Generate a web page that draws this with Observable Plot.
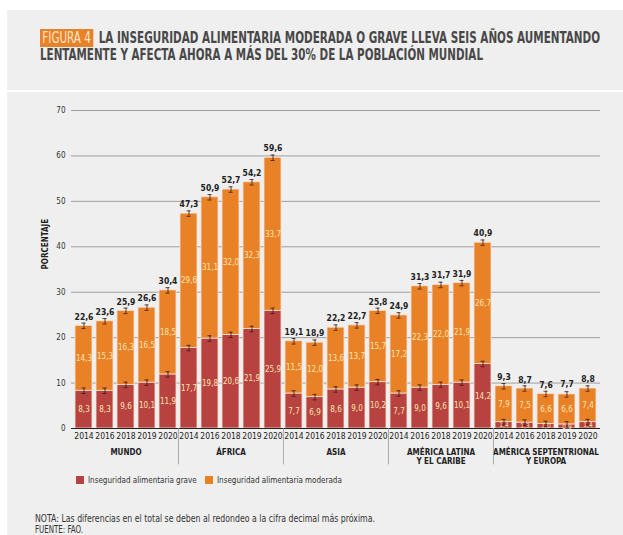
<!DOCTYPE html>
<html><head><meta charset="utf-8">
<script src="https://cdn.jsdelivr.net/npm/d3@7"></script>
<script src="https://cdn.jsdelivr.net/npm/@observablehq/plot@0.6"></script>
<style>
body{margin:0;background:#fff;width:623px;height:535px;position:relative;overflow:hidden;font-family:"DejaVu Sans Condensed","DejaVu Sans",sans-serif;color:#333;}
#head{position:absolute;left:7px;top:10px;width:616px;height:80px;background:#efefef;}
#main{position:absolute;left:7px;top:92px;width:616px;height:443px;background:#efefef;}
.tl{position:absolute;left:40px;font-weight:bold;font-size:15px;line-height:16px;color:#484848;white-space:nowrap;transform-origin:0 50%;}
.tl .fig{background:#e98127;color:#fde8cf;font-weight:normal;padding:0 3px;margin-right:7px;}
#chart{position:absolute;left:0;top:95px;}
.lg{position:absolute;top:476px;font-size:8px;white-space:nowrap;color:#333;}
.lg span.sw{display:inline-block;width:8px;height:8px;margin-right:4px;vertical-align:-1px;}
.nt{position:absolute;left:35px;font-size:10.5px;line-height:11px;color:#333;white-space:nowrap;transform-origin:0 50%;}
</style></head>
<body>
<div id="head"></div><div id="main"></div>
<div class="tl" id="t1" data-w="560" style="top:30px"><span class="fig">FIGURA 4</span>LA INSEGURIDAD ALIMENTARIA MODERADA O GRAVE LLEVA SEIS AÑOS AUMENTANDO</div>
<div class="tl" id="t2" data-w="443" style="top:47px">LENTAMENTE Y AFECTA AHORA A MÁS DEL 30% DE LA POBLACIÓN MUNDIAL</div>
<div id="chart"></div>
<div class="lg" style="left:76px"><span class="sw" style="background:#b8423f"></span>Inseguridad alimentaria grave</div>
<div class="lg" style="left:205px"><span class="sw" style="background:#e98127"></span>Inseguridad alimentaria moderada</div>
<div class="nt" data-w="340" style="top:513px">NOTA: Las diferencias en el total se deben al redondeo a la cifra decimal más próxima.</div>
<div class="nt" data-w="48" style="top:524px">FUENTE: FAO.</div>
<script>
const groups = ["MUNDO", "ÁFRICA", "ASIA", "AMÉRICA LATINA\nY EL CARIBE", "AMÉRICA SEPTENTRIONAL\nY EUROPA"];
const years = ["2014", "2016", "2018", "2019", "2020"];
const grave = [
  [8.3, 8.3, 9.6, 10.1, 11.9],
  [17.7, 19.8, 20.6, 21.9, 25.9],
  [7.7, 6.9, 8.6, 9.0, 10.2],
  [7.7, 9.0, 9.6, 10.1, 14.2],
  [1.4, 1.3, 1.0, 0.9, 1.4]
];
const moderada = [
  [14.3, 15.3, 16.3, 16.5, 18.5],
  [29.6, 31.1, 32.0, 32.3, 33.7],
  [11.5, 12.0, 13.6, 13.7, 15.7],
  [17.2, 22.3, 22.0, 21.9, 26.7],
  [7.9, 7.5, 6.6, 6.6, 7.4]
];
const total = [
  [22.6, 23.6, 25.9, 26.6, 30.4],
  [47.3, 50.9, 52.7, 54.2, 59.6],
  [19.1, 18.9, 22.2, 22.7, 25.8],
  [24.9, 31.3, 31.7, 31.9, 40.9],
  [9.3, 8.7, 7.6, 7.7, 8.8]
];
const errMargin = 0.6;
const yTicks = [0, 10, 20, 30, 40, 50, 60, 70];

// fit condensed text lines to the reference widths
document.querySelectorAll("[data-w]").forEach(el => {
  const w = el.getBoundingClientRect().width;
  el.style.transform = `scaleX(${(+el.dataset.w) / w})`;
});

const rows = [];
groups.forEach((g, gi) => years.forEach((y, yi) => {
  rows.push({key: gi + "|" + y, group: g, year: y, yi,
    grave: grave[gi][yi], moderada: moderada[gi][yi], total: total[gi][yi],
    top: grave[gi][yi] + moderada[gi][yi]});
}));
const keys = rows.map(d => d.key);
const fmt = v => v.toFixed(1).replace(".", ",");

const W = 623, H = 375, ML = 71, MR = 23, MT = 15, MB = 42, PAD = 0.19;
const step = (W - ML - MR) / (keys.length + PAD);
const RED = "#b8423f", ORANGE = "#e98127", INK = "#fbe6b4";

const firsts = rows.filter(d => d.yi === 0 && d.group !== groups[0]);
const mids = rows.filter(d => d.yi === 2);

const plot = Plot.plot({
  width: W, height: H, marginLeft: ML, marginRight: MR, marginTop: MT, marginBottom: MB,
  style: {background: "transparent", fontFamily: '"DejaVu Sans Condensed","DejaVu Sans",sans-serif', color: "#333"},
  x: {type: "band", domain: keys, padding: PAD, axis: null},
  y: {domain: [0, 70], axis: null},
  marks: [
    Plot.gridY(yTicks.filter(t => t > 0), {stroke: "#8a8a8a", strokeOpacity: 1, strokeWidth: 0.8}),
    Plot.axisY(yTicks, {tickSize: 0, tickPadding: 6, fontSize: 8, label: null}),
    Plot.barY(rows, {x: "key", y1: 0, y2: "grave", fill: RED, stroke: "#f6e3d6", strokeWidth: 0.8}),
    Plot.barY(rows, {x: "key", y1: "grave", y2: "top", fill: ORANGE, stroke: "#f6e3d6", strokeWidth: 0.8}),
    Plot.ruleY([0], {stroke: "#222", strokeWidth: 1.2}),
    // error whiskers
    Plot.ruleX(rows, {x: "key", y1: d => d.grave - errMargin, y2: d => d.grave + errMargin, stroke: "#3a1a10", strokeWidth: 0.8}),
    Plot.tickY(rows, {x: "key", y: d => d.grave - errMargin, stroke: "#3a1a10", strokeWidth: 0.8, inset: 6.5}),
    Plot.tickY(rows, {x: "key", y: d => d.grave + errMargin, stroke: "#3a1a10", strokeWidth: 0.8, inset: 6.5}),
    Plot.ruleX(rows, {x: "key", y1: d => d.top - errMargin, y2: d => d.top + errMargin, stroke: "#3a1a10", strokeWidth: 0.8}),
    Plot.tickY(rows, {x: "key", y: d => d.top - errMargin, stroke: "#3a1a10", strokeWidth: 0.8, inset: 6.5}),
    Plot.tickY(rows, {x: "key", y: d => d.top + errMargin, stroke: "#3a1a10", strokeWidth: 0.8, inset: 6.5}),
    // labels
    Plot.text(rows, {x: "key", y: d => d.grave / 2, text: d => fmt(d.grave), fill: INK, fontSize: d => d.grave < 3 ? 6.5 : 8}),
    Plot.text(rows, {x: "key", y: d => d.grave + d.moderada / 2, text: d => fmt(d.moderada), fill: INK, fontSize: 8}),
    Plot.text(rows, {x: "key", y: "total", text: d => fmt(d.total), dy: -9, fill: "#222", fontSize: 8.5, fontWeight: "bold"}),
    // x tick labels
    Plot.text(rows, {x: "key", y: 0, text: "year", dy: 8, fill: "#222", fontSize: 8.5}),
    // group labels
    Plot.text(mids, {x: "key", y: 0, text: "group", dy: 20, lineAnchor: "top", fill: "#222", fontSize: 8, fontWeight: "bold", lineHeight: 1.15}),
    // separators
    Plot.ruleX(firsts, {x: "key", y1: 0, y2: -8, dx: -step / 2, stroke: "#9a9a9a", strokeWidth: 0.8}),
    Plot.text(["PORCENTAJE"], {frameAnchor: "left", rotate: -90, dx: -26, fill: "#222", fontSize: 8, fontWeight: "bold"})
  ]
});
document.getElementById("chart").append(plot);
</script>
</body></html>
